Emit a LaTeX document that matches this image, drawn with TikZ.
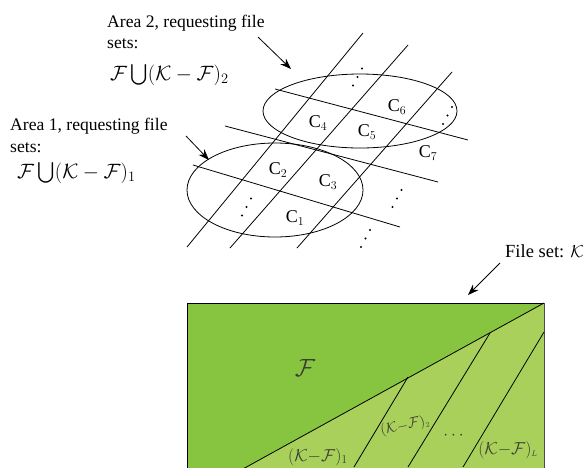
\documentclass[tikz,border=0pt]{standalone}
\usepackage{amsmath}
\usepackage{fontspec}
\setmainfont{Liberation Serif}
\usetikzlibrary{arrows.meta,calc,positioning}
\definecolor{setF}{RGB}{135,197,64}
\definecolor{setK}{RGB}{168,208,90}
\definecolor{inkK}{RGB}{60,60,50}
\tikzset{pin/.style={-{Stealth[length=11pt,width=8pt]}, line width=0.8pt},
  txt/.style={anchor=base west, inner sep=0pt, font=\fontsize{17.6}{20}\selectfont},
  union/.style={txt, font=\fontsize{19.5}{22}\selectfont},
  cell/.style={inner sep=0pt, font=\fontsize{18}{18}\selectfont},
  part/.style={inner sep=0pt, text=inkK, font=\fontsize{17}{17}\selectfont},
  grid/.style={line width=0.8pt}}
\begin{document}
\begin{tikzpicture}[x=1pt, y=-1pt, line join=round]
  \useasboundingbox (0,0) rectangle (588,467);
  % the two areas and the cell lines
  \draw[grid] (360,111) ellipse [x radius=97, y radius=37];
  \draw[grid] (275,190) ellipse [x radius=88, y radius=47];
  \draw[grid] (187,247) -- (363,33);
  \draw[grid] (230,248) -- (408,45);
  \draw[grid] (297,248) -- (452,72);
  \draw[grid] (275,89) -- (468,140);
  \draw[grid] (225,126) -- (438,182);
  \draw[grid] (193,165) -- (400,227);
  \node[cell] (c1) at (295,218) {$\mathrm{C}_1$};
  \node[cell] (c2) at (278,170) {$\mathrm{C}_2$};
  \node[cell] (c3) at (328,182) {$\mathrm{C}_3$};
  \node[cell] (c4) at (318,123) {$\mathrm{C}_4$};
  \node[cell] (c5) at (367,132) {$\mathrm{C}_5$};
  \node[cell] (c6) at (397,107) {$\mathrm{C}_6$};
  \node[cell] (c7) at (428,153) {$\mathrm{C}_7$};
  \foreach \x/\y in {357.5/77, 447.5/115.5, 246.5/207, 397/198.5, 365.5/238.5}
    \foreach \d in {-1,0,1}
      \fill (\x+4.5*\d,\y-8.5*\d) circle [radius=1.2];
  % area labels
  \node[txt] (a2) at (107,27) {Area 2, requesting file};
  \node[txt] (a2s) at (107,48) {sets:};
  \node[union] (a2f) at (110,80)
    {$\mathcal{F}\bigcup(\mathcal{K}-\mathcal{F})_2$};
  \node[txt] (a1) at (10,130) {Area 1, requesting file};
  \node[txt] (a1s) at (10,152) {sets:};
  \node[union] (a1f) at (17,178)
    {$\mathcal{F}\bigcup(\mathcal{K}-\mathcal{F})_1$};
  \coordinate (e2) at (291,69);
  \coordinate (e1) at (209,160);
  \draw[pin] (258,37) -- (e2);
  \draw[pin] (186,136) -- (e1);
  % file set K split into F and the parts
  \begin{scope}
    \clip (0,0) rectangle (588,467);
    \fill[setF] (187,303) rectangle (544,470);
    \fill[setK] (544,303) -- (241,470) -- (544,470) -- cycle;
    \draw[line width=0.8pt] (187,470) -- (187,303) -- (544,303);
    \draw[line width=0.9pt, black!70] (544,303) -- (544,470);
    \draw[line width=0.8pt] (544,303) -- (241,470);
    \draw[line width=0.8pt] (408,377) -- (354,467);
    \draw[line width=0.8pt] (490,333) -- (408,467);
    \draw[line width=0.8pt] (544,332) -- (463,467);
  \end{scope}
  \node[inner sep=0pt, font=\fontsize{24}{24}\selectfont, text=inkK] (f) at (305,368) {$\mathcal{F}$};
  \node[part] (k1) at (318,457) {$(\mathcal{K}{-}\mathcal{F})_1$};
  \node[part, rotate=12, font=\fontsize{14}{14}\selectfont] (k2) at (405,426) {$(\mathcal{K}{-}\mathcal{F})_{\scriptscriptstyle 2}$};
  \node[part] (kd) at (455,436) {$\cdots$};
  \node[part] (kl) at (508,450) {$(\mathcal{K}{-}\mathcal{F})_{\scriptscriptstyle L}$};
  \node[txt, font=\fontsize{18.5}{20}\selectfont] (fk) at (505,257) {File set: $\mathcal{K}$};
  \coordinate (top) at (468,295);
  \draw[pin] (500,263) -- (top);
\end{tikzpicture}
\end{document}
